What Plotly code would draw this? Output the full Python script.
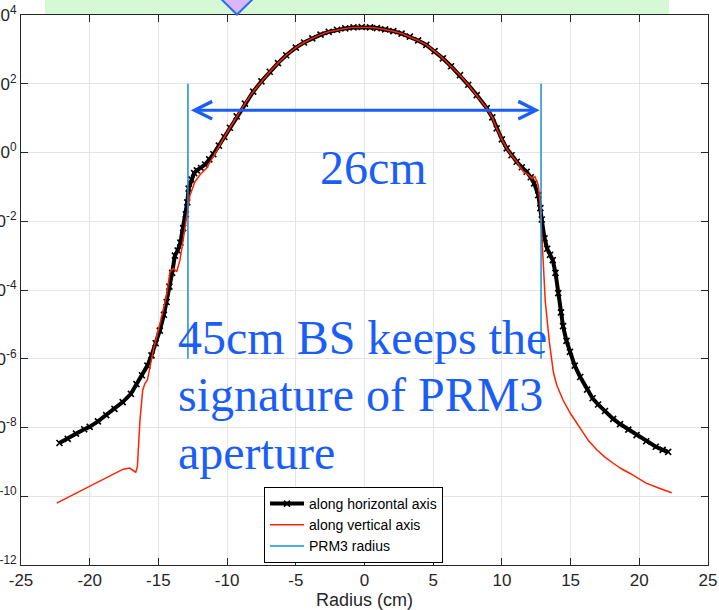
import math
import plotly.graph_objects as go

# ---------------- data ----------------
# Profile along horizontal axis: radius (cm) and log10 of intensity
h_x = [-22.2, -21.6, -21.0, -20.4, -20.0, -19.4, -18.8, -18.2, -17.6, -17.0,
       -16.6, -16.2, -15.8, -15.5, -15.2, -14.9, -14.6, -14.4, -14.2, -14.0,
       -13.8, -13.6, -13.4, -13.2, -13.0, -12.9, -12.8, -12.6, -12.4, -12.2,
       -11.9, -11.6, -11.3, -11.0, -10.6, -10.2, -9.8, -9.3, -8.7, -8.1,
       -7.5, -6.9, -6.3, -5.7, -5.0, -4.4, -3.8, -3.2, -2.6, -2.0,
       -1.4, -0.8, -0.2, 0.4, 0.9, 1.5, 2.1, 2.7, 3.3, 3.9,
       4.5, 5.1, 5.7, 6.3, 6.95, 7.55, 8.17, 8.9, 9.3, 9.62,
       10.0, 10.35, 10.7, 11.08, 11.45, 11.8, 12.1, 12.35, 12.65, 12.8,
       12.9, 13.1, 13.3, 13.5, 13.7, 13.9, 14.1, 14.3, 14.45, 14.7,
       14.95, 15.3, 15.7, 16.2, 16.6, 17.0, 17.5, 18.1, 18.6, 19.2,
       19.8, 20.5, 21.2, 21.7, 22.1]
h_log10 = [-8.45, -8.33, -8.18, -8.05, -7.98, -7.82, -7.64, -7.46, -7.26, -7.02,
           -6.74, -6.48, -6.20, -5.90, -5.55, -5.18, -4.72, -4.35, -3.90, -3.50,
           -3.00, -2.85, -2.62, -2.20, -1.80, -1.45, -1.05, -0.78, -0.60, -0.52,
           -0.45, -0.35, -0.20, -0.05, 0.20, 0.45, 0.72, 1.05, 1.42, 1.77,
           2.07, 2.35, 2.60, 2.83, 3.05, 3.20, 3.32, 3.43, 3.51, 3.57,
           3.61, 3.64, 3.65, 3.64, 3.62, 3.58, 3.53, 3.46, 3.37, 3.26,
           3.13, 2.95, 2.74, 2.51, 2.25, 1.97, 1.67, 1.29, 1.02, 0.70,
           0.38, 0.12, -0.08, -0.27, -0.43, -0.56, -0.72, -0.90, -1.24, -1.62,
           -1.95, -2.50, -2.80, -2.98, -3.13, -3.50, -4.09, -4.65, -5.05, -5.48,
           -5.80, -6.20, -6.53, -6.90, -7.15, -7.33, -7.52, -7.75, -7.90, -8.06,
           -8.22, -8.40, -8.56, -8.65, -8.71]

# Profile along vertical axis
v_x = [-22.4, -21.5, -20.5, -19.5, -18.5, -17.6, -17.1, -16.8, -16.65, -16.53,
       -16.34, -16.14, -15.98, -15.8, -15.66, -15.37, -14.88, -14.4, -14.16, -13.9,
       -13.67, -13.43, -13.2, -12.94, -12.77, -12.7, -12.34, -11.97, -11.5, -11.0,
       -10.6, -10.2, -9.8, -9.3, -8.7, -8.1, -7.5, -6.9, -6.3, -5.7,
       -5.0, -4.4, -3.8, -3.2, -2.6, -2.0, -1.4, -0.8, -0.2, 0.4,
       0.9, 1.5, 2.1, 2.7, 3.3, 3.9, 4.5, 5.1, 5.7, 6.3,
       6.95, 7.55, 8.17, 8.9, 9.3, 9.62, 10.0, 10.35, 10.7, 11.08,
       11.56, 11.92, 12.17, 12.4, 12.65, 12.77, 12.85, 12.95, 13.05, 13.15,
       13.3, 13.45, 13.6, 13.75, 14.0, 14.45, 15.0, 15.7, 16.3, 16.9,
       17.5, 18.1, 18.7, 19.3, 19.9, 20.5, 21.4, 22.36]
v_log10 = [-10.20, -10.02, -9.82, -9.62, -9.42, -9.22, -9.18, -9.25, -9.30, -9.14,
           -7.78, -6.91, -6.72, -6.62, -6.33, -5.75, -4.97, -4.15, -3.47, -3.37,
           -3.47, -3.13, -2.55, -1.87, -1.38, -1.24, -0.85, -0.65, -0.46, -0.10,
           0.20, 0.45, 0.72, 1.05, 1.42, 1.77, 2.07, 2.35, 2.60, 2.83,
           3.05, 3.20, 3.32, 3.43, 3.51, 3.57, 3.61, 3.64, 3.65, 3.64,
           3.62, 3.58, 3.53, 3.46, 3.37, 3.26, 3.13, 2.95, 2.74, 2.51,
           2.25, 1.97, 1.67, 1.29, 1.02, 0.70, 0.38, 0.12, -0.08, -0.27,
           -0.56, -0.65, -0.75, -0.70, -0.95, -1.43, -2.00, -2.60, -3.50, -4.30,
           -5.00, -5.50, -5.95, -6.40, -6.78, -7.20, -7.60, -8.00, -8.38, -8.65,
           -8.86, -9.04, -9.20, -9.33, -9.48, -9.62, -9.76, -9.90]

prm3_radius = 12.85          # cm
prm3_y_span = [1e-6, 1e2]    # vertical extent of the radius markers
arrow_level = 17             # height of the 26 cm arrow

x_ticks = [-25, -20, -15, -10, -5, 0, 5, 10, 15, 20, 25]
x_tick_labels = ["-25", "-20", "-15", "-10", "-5", "0", "5", "10", "15", "20", "25"]
y_exp = [-12, -10, -8, -6, -4, -2, 0, 2, 4]
y_ticks = [10.0 ** e for e in y_exp]
y_tick_labels = ["10<sup>%d</sup>" % e for e in y_exp]

h_y = [10.0 ** v for v in h_log10]
v_y = [10.0 ** v for v in v_log10]

# ---------------- figure ----------------
W, H = 719, 610
ML, MR, MT, MB = 21, 11, 15, 45
PW, PH = W - ML - MR, H - MT - MB


def px(xp):
    return (xp - ML) / PW


def py(yp):
    return (H - MB - yp) / PH


AX = "#262626"
BLUE_TXT = "#1b5ef7"
SANS = "Liberation Sans, Arial, sans-serif"
SERIF = "Liberation Serif, Times New Roman, serif"

fig = go.Figure()
fig.add_trace(go.Scatter(
    x=h_x, y=h_y, mode="lines+markers", name="along horizontal axis",
    line=dict(color="black", width=4),
    marker=dict(symbol="x-thin", size=6, line=dict(color="black", width=1.6)),
))
fig.add_trace(go.Scatter(
    x=v_x, y=v_y, mode="lines", name="along vertical axis",
    line=dict(color="#ff2200", width=1.5),
))
fig.add_trace(go.Scatter(
    x=[-prm3_radius, -prm3_radius, None, prm3_radius, prm3_radius],
    y=[prm3_y_span[0], prm3_y_span[1], None, prm3_y_span[0], prm3_y_span[1]],
    mode="lines", name="PRM3 radius",
    line=dict(color="#1790d6", width=1.5),
))

fig.update_layout(
    width=W, height=H, autosize=False,
    margin=dict(l=ML, r=MR, t=MT, b=MB, autoexpand=False),
    paper_bgcolor="white", plot_bgcolor="white",
    font=dict(family=SANS, color=AX),
    showlegend=True,
    legend=dict(
        x=px(264), y=py(525), xanchor="left", yanchor="middle",
        bgcolor="white", bordercolor="black", borderwidth=1,
        font=dict(family=SANS, size=14, color="black"),
        tracegroupgap=0, itemwidth=34,
    ),
    xaxis=dict(
        range=[-25, 25], tickmode="array", tickvals=x_ticks, ticktext=x_tick_labels,
        ticks="inside", ticklen=7, tickcolor=AX, tickwidth=1,
        showline=True, linecolor=AX, linewidth=1, mirror="allticks",
        showgrid=True, gridcolor="#e4e4e4", gridwidth=1, zeroline=False,
        tickfont=dict(family=SANS, size=17, color=AX), automargin=False,
        title=dict(text="Radius (cm)", font=dict(family=SANS, size=18, color=AX), standoff=3),
    ),
    yaxis=dict(
        type="log", range=[-12, 4], tickmode="array", tickvals=y_ticks, ticktext=y_tick_labels,
        ticks="inside", ticklen=7, tickcolor=AX, tickwidth=1,
        showline=True, linecolor=AX, linewidth=1, mirror="allticks",
        showgrid=True, gridcolor="#e4e4e4", gridwidth=1, zeroline=False,
        tickfont=dict(family=SANS, size=17, color=AX), automargin=False,
    ),
)

# green banner and diamond above the axes
fig.add_shape(type="rect", xref="paper", yref="paper",
              x0=px(45), x1=px(669), y0=py(15), y1=py(-2),
              fillcolor="#d4f9d4", line=dict(width=0), layer="below")
fig.add_shape(type="path", xref="paper", yref="paper",
              path="M %f,%f L %f,%f L %f,%f Z" % (px(218), py(-4), px(237), py(14.5), px(256), py(-4)),
              fillcolor="#dab6fb", line=dict(color="#2a6ef0", width=2))

# double-headed arrow spanning the PRM3 aperture
ly = math.log10(arrow_level)
fig.add_annotation(x=prm3_radius - 0.1, y=ly, ax=-prm3_radius + 0.1, ay=ly,
                   xref="x", yref="y", axref="x", ayref="y",
                   showarrow=True, arrowhead=5, arrowside="end+start",
                   arrowsize=1.15, arrowwidth=3, arrowcolor=BLUE_TXT, text="")

fig.add_annotation(x=px(373), y=py(167), xref="paper", yref="paper",
                   text="26cm", showarrow=False, xanchor="center", yanchor="middle",
                   font=dict(family=SERIF, size=48, color=BLUE_TXT))
for txt, yc in [("45cm BS keeps the", 337), ("signature of PRM3", 394), ("aperture", 452)]:
    fig.add_annotation(x=px(176), y=py(yc), xref="paper", yref="paper",
                       text=txt, showarrow=False, xanchor="left", yanchor="middle",
                       font=dict(family=SERIF, size=48, color=BLUE_TXT))

fig.write_html("out.html")
